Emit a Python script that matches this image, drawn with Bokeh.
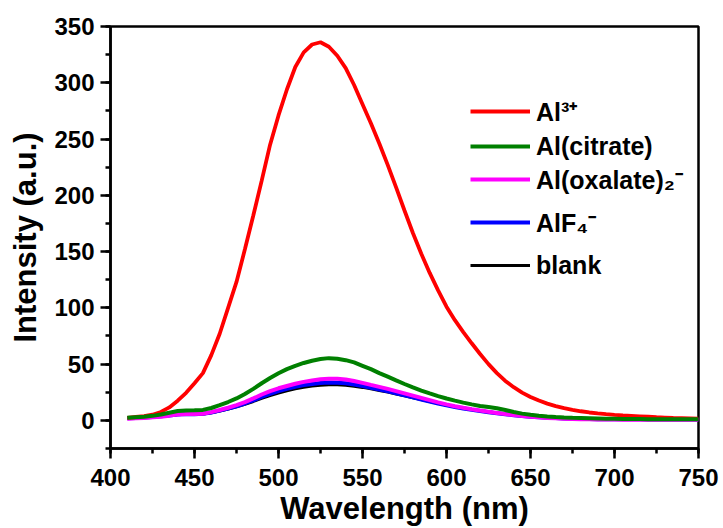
from bokeh.plotting import figure
from bokeh.models import Legend, LegendItem, SingleIntervalTicker, Range1d
from bokeh.embed import file_html
from bokeh.resources import INLINE

wavelength = list(range(410, 755, 5))

al3 = [2.2, 3.0, 3.8, 5.0, 7.5, 11.5, 17.5, 24.5, 33, 42,
       58, 77, 100, 123, 152, 182, 213, 245, 271, 294,
       314, 327, 334, 336, 332, 324, 313, 298, 281, 264,
       246, 227, 207, 186.5, 166.5, 148, 131, 115.5, 101, 89,
       78.5, 68.5, 59, 50, 42, 35, 29.5, 24.7, 20.8, 17.6,
       14.9, 12.7, 10.8, 9.3, 8.1, 7.0, 6.2, 5.5, 4.9, 4.4,
       4.0, 3.6, 3.2, 2.8, 2.5, 2.2, 2.0, 1.8, 1.6]

citrate = [2.3, 2.8, 3.3, 4.0, 5.2, 6.8, 8.3, 8.8, 9.0, 9.3,
           11.0, 13.5, 16.3, 19.5, 23.5, 28.0, 33.0, 37.6, 41.8, 45.5,
           48.5, 51.0, 53.0, 54.5, 55.3, 54.8, 53.5, 51.5, 48.5, 45.5,
           42.0, 38.8, 35.5, 32.3, 29.3, 26.5, 24.0, 21.6, 19.4, 17.5,
           15.8, 14.2, 12.8, 11.8, 10.8, 9.2, 7.4, 6.0, 4.9, 4.1,
           3.5, 3.0, 2.6, 2.3, 2.1, 1.9, 1.7, 1.5, 1.4, 1.3,
           1.2, 1.2, 1.1, 1.1, 1.0, 1.0, 1.0, 0.9, 0.9]

oxalate = [1.5, 1.8, 2.2, 2.7, 3.3, 4.2, 5.2, 5.6, 5.6, 5.9,
           7.3, 9.2, 11.2, 13.5, 16.2, 19.5, 23.0, 26.0, 28.5, 30.5,
           32.5, 34.2, 35.5, 36.5, 37.0, 36.9, 36.3, 35.0, 33.3, 31.5,
           29.8, 28.0, 26.0, 24.0, 22.0, 20.0, 18.0, 16.0, 14.2, 12.6,
           11.2, 9.9, 8.7, 7.6, 6.6, 5.6, 4.7, 3.9, 3.3, 2.7,
           2.2, 1.8, 1.5, 1.2, 1.0, 0.9, 0.8, 0.7, 0.7, 0.6,
           0.6, 0.6, 0.5, 0.5, 0.5, 0.5, 0.5, 0.5, 0.5]

alf4 = [1.8, 2.1, 2.5, 3.0, 3.6, 4.4, 5.3, 5.6, 5.5, 5.8,
        7.0, 8.7, 10.5, 12.5, 15.0, 17.8, 20.8, 23.5, 26.0, 28.0,
        29.8, 31.3, 32.4, 33.2, 33.6, 33.5, 33.0, 31.9, 30.5, 29.0,
        27.4, 25.8, 24.0, 22.2, 20.4, 18.6, 16.8, 15.0, 13.4, 11.9,
        10.6, 9.4, 8.3, 7.3, 6.3, 5.4, 4.6, 3.9, 3.3, 2.8,
        2.4, 2.0, 1.7, 1.5, 1.3, 1.2, 1.1, 1.0, 1.0, 0.9,
        0.9, 0.9, 0.8, 0.8, 0.8, 0.8, 0.8, 0.8, 0.8]

blank = [2.0, 2.3, 2.6, 3.1, 3.7, 4.5, 5.3, 5.5, 5.4, 5.7,
         6.8, 8.3, 10.0, 12.0, 14.3, 16.8, 19.5, 22.0, 24.3, 26.3,
         28.0, 29.4, 30.5, 31.2, 31.6, 31.6, 31.2, 30.4, 29.3, 28.0,
         26.6, 25.1, 23.5, 21.8, 20.1, 18.4, 16.7, 15.1, 13.6, 12.2,
         10.9, 9.7, 8.6, 7.6, 6.6, 5.7, 4.9, 4.2, 3.6, 3.1,
         2.7, 2.3, 2.0, 1.8, 1.6, 1.5, 1.4, 1.3, 1.3, 1.2,
         1.2, 1.2, 1.1, 1.1, 1.1, 1.1, 1.1, 1.1, 1.1]

labels = ["Al\u00b3\u207a", "Al(citrate)", "Al(oxalate)\u2082\u207b", "AlF\u2084\u207b", "blank"]
colors = ["#ff0000", "#008000", "#ff00ff", "#0000ff", "#000000"]
widths = [3.8, 4, 4, 4, 3]
series = [al3, citrate, oxalate, alf4, blank]

FONT = "Liberation Sans"

p = figure(width=723, height=528, output_backend="svg", toolbar_location=None,
           x_range=Range1d(400, 750), y_range=Range1d(-25, 350),
           min_border_left=110, min_border_right=25, min_border_top=26, min_border_bottom=80)
p.background_fill_color = "white"
p.border_fill_color = "white"
p.outline_line_color = "black"
p.outline_line_width = 2.5
p.xgrid.visible = False
p.ygrid.visible = False

renderers = {}
for idx in [4, 3, 2, 0, 1]:
    r = p.line(wavelength, series[idx], line_color=colors[idx], line_width=widths[idx])
    renderers[idx] = r

for ax, title in ((p.xaxis[0], "Wavelength (nm)"), (p.yaxis[0], "Intensity (a.u.)")):
    ax.ticker = SingleIntervalTicker(interval=50, num_minor_ticks=2)
    ax.axis_label = title
    ax.axis_label_text_font = FONT
    ax.axis_label_text_font_style = "bold"
    ax.axis_label_text_font_size = "31px"
    ax.axis_label_text_color = "black"
    ax.major_label_text_font = FONT
    ax.major_label_text_font_style = "bold"
    ax.major_label_text_font_size = "24px"
    ax.major_label_text_color = "black"
    ax.axis_line_width = 2.5
    ax.axis_line_color = "black"
    ax.major_tick_line_width = 2.5
    ax.minor_tick_line_width = 2.5
    ax.major_tick_line_color = "black"
    ax.minor_tick_line_color = "black"
    ax.major_tick_out = 10
    ax.major_tick_in = 0
    ax.minor_tick_out = 5
    ax.minor_tick_in = 0

p.xaxis[0].major_label_standoff = 10
p.xaxis[0].axis_label_standoff = 2
p.yaxis[0].major_label_standoff = 6
p.yaxis[0].axis_label_standoff = 8

# legend rows (screen offsets from frame bottom-left), one per entry
legend_rows = [320, 287, 252, 209, 168]
for i in range(5):
    lg = Legend(items=[LegendItem(label=labels[i], renderers=[renderers[i]])],
                location=(360, legend_rows[i]))
    lg.glyph_width = 60
    lg.glyph_height = 30
    lg.label_height = 30
    lg.padding = 0
    lg.margin = 0
    lg.label_standoff = 6
    lg.border_line_color = None
    lg.background_fill_alpha = 0
    lg.label_text_font = FONT
    lg.label_text_font_style = "bold"
    lg.label_text_font_size = "25px"
    lg.label_text_color = "black"
    p.add_layout(lg, "center")

open("out.html", "w").write(file_html(p, INLINE))
